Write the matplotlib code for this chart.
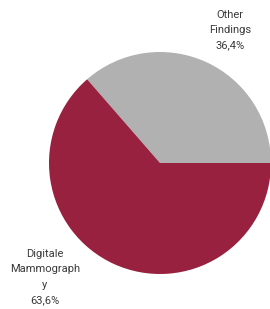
import matplotlib
matplotlib.use("Agg")
import matplotlib.pyplot as plt

categories = ["Other\nFindings", "Digitale\nMammograph\ny"]
values = [36.4, 63.6]
colors = ["#B1B1B1", "#98213F"]

W, H = 270, 309
fig = plt.figure(figsize=(W / 100, H / 100), dpi=100)
ax = fig.add_axes([0, 0, 1, 1])

cx, cy, r = 160, 163, 111
ax.pie(values, colors=colors, startangle=0, counterclock=False,
       center=(cx, cy), radius=r, frame=True,
       wedgeprops=dict(linewidth=0))
ax.set_xlim(0, W)
ax.set_ylim(H, 0)
ax.set_aspect("equal")
ax.axis("off")

label_pos = [(230, 30), (45, 277)]
for cat, v, (x, y) in zip(categories, values, label_pos):
    txt = f"{cat}\n{v:.1f}%".replace(".", ",")
    ax.text(x, y, txt, ha="center", va="center", fontsize=8,
            family="Roboto", color="#3a3a3a", linespacing=1.65)

fig.savefig("out.png", dpi=100)
